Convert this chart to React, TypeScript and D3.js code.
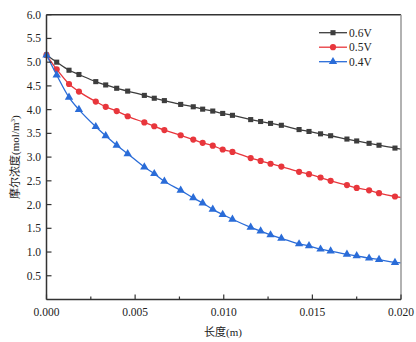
import React from "react";
import * as d3 from "d3";

const xs = [0, 0.000575, 0.00127, 0.00183, 0.00278, 0.00334, 0.00396, 0.00458, 0.00552, 0.00608,
  0.00665, 0.00757, 0.00828, 0.00881, 0.00938, 0.00994, 0.01049, 0.01152, 0.01208, 0.01264,
  0.01325, 0.01425, 0.01481, 0.01546, 0.01603, 0.01695, 0.0175, 0.0182, 0.01876, 0.01966, 0.02];
const v06 = [5.15, 5.0, 4.83, 4.74, 4.59, 4.52, 4.45, 4.39, 4.30, 4.24, 4.19, 4.11, 4.06, 4.01, 3.97, 3.92,
  3.88, 3.79, 3.75, 3.71, 3.67, 3.58, 3.54, 3.49, 3.45, 3.38, 3.34, 3.29, 3.25, 3.19, 3.17];
const v05 = [5.15, 4.85, 4.54, 4.38, 4.17, 4.06, 3.97, 3.86, 3.73, 3.65, 3.57, 3.46, 3.37, 3.30, 3.24, 3.16,
  3.11, 2.98, 2.92, 2.86, 2.80, 2.69, 2.64, 2.57, 2.50, 2.41, 2.35, 2.30, 2.24, 2.17, 2.15];
const v04 = [5.15, 4.73, 4.26, 4.0, 3.64, 3.45, 3.25, 3.07, 2.79, 2.65, 2.49, 2.30, 2.14, 2.03, 1.90, 1.79,
  1.69, 1.52, 1.44, 1.36, 1.29, 1.17, 1.13, 1.06, 1.02, 0.95, 0.92, 0.87, 0.84, 0.78, 0.77];
const seriesNames = ["0.6V", "0.5V", "0.4V"];
const xTicks = [0, 0.005, 0.01, 0.015, 0.02];
const xMinorTicks = [0.0025, 0.0075, 0.0125, 0.0175];
const yTicks = [0.5, 1.0, 1.5, 2.0, 2.5, 3.0, 3.5, 4.0, 4.5, 5.0, 5.5, 6.0];

const colors = ["#3d3d3d", "#e8363c", "#2a6cd8"];
const shapes = [d3.symbolSquare, d3.symbolCircle, d3.symbolTriangle];
const sizes = [26, 30, 30];

export default function App() {
  const L = 46.5, R = 401, T = 14.7, B = 299.5;
  const x = d3.scaleLinear().domain([0, 0.02]).range([L, R]);
  const y = d3.scaleLinear().domain([0, 6]).range([B, T]);
  const data = [v06, v05, v04];
  const line = d3.line<number>().x((_, i) => x(xs[i])).y((d) => y(d)).curve(d3.curveMonotoneX);
  const serif = "'Liberation Serif', 'Times New Roman', serif";
  const cjk = "'Noto Sans CJK SC', sans-serif";
  return (
    <svg width={416} height={342} style={{ position: "absolute", left: 0, top: 0, background: "#fff" }}>
      {/* series */}
      {data.map((vals, s) => (
        <g key={s}>
          <path d={line(vals) || ""} fill="none" stroke={colors[s]} strokeWidth={1.3} />
          {vals.slice(0, vals.length - 1).map((v, i) => (
            <path key={i} d={d3.symbol(shapes[s], sizes[s])() || ""}
              transform={`translate(${x(xs[i])},${y(v)})`} fill={colors[s]} />
          ))}
        </g>
      ))}
      {/* frame */}
      <line x1={L} x2={R} y1={T} y2={T} stroke="#333" strokeWidth={1.5} />
      <line x1={R} x2={R} y1={T} y2={B} stroke="#999" strokeWidth={1.5} />
      <line x1={L} x2={L} y1={T} y2={B} stroke="#333" strokeWidth={1.5} />
      <line x1={L} x2={R} y1={B} y2={B} stroke="#333" strokeWidth={1.5} />
      {/* x ticks */}
      {xTicks.map((t) => (
        <g key={t}>
          <line x1={x(t)} x2={x(t)} y1={B} y2={B - 5} stroke="#333" strokeWidth={1.2} />
          <text x={x(t)} y={316} textAnchor="middle" fontFamily={serif} fontSize={11.5} fill="#222">
            {t.toFixed(3)}
          </text>
        </g>
      ))}
      {xMinorTicks.map((t) => (
        <line key={t} x1={x(t)} x2={x(t)} y1={B} y2={B - 3} stroke="#333" strokeWidth={1.2} />
      ))}
      {/* y ticks */}
      {yTicks.map((t) => (
        <g key={t}>
          <line x1={L} x2={L + 5} y1={y(t)} y2={y(t)} stroke="#333" strokeWidth={1.2} />
          <text x={41} y={y(t) + 4} textAnchor="end" fontFamily={serif} fontSize={11.5} fill="#222">
            {t.toFixed(1)}
          </text>
        </g>
      ))}
      {/* axis titles */}
      <text x={223} y={336} textAnchor="middle" fontSize={11} fill="#222">
        <tspan fontFamily={cjk}>长度</tspan>
        <tspan fontFamily={serif}>(m)</tspan>
      </text>
      <text transform={`translate(19,${(T + B) / 2}) rotate(-90)`} textAnchor="middle" fontSize={11} fill="#222">
        <tspan fontFamily={cjk}>摩尔浓度</tspan>
        <tspan fontFamily={serif}>(mol/m</tspan>
        <tspan fontFamily={serif} fontSize={7} dy={-4}>3</tspan>
        <tspan fontFamily={serif} dy={4}>)</tspan>
      </text>
      {/* legend */}
      {seriesNames.map((n, s) => {
        const ly = 32.7 + s * 14.5;
        return (
          <g key={n}>
            <line x1={319} x2={347} y1={ly} y2={ly} stroke={colors[s]} strokeWidth={1.3} />
            <path d={d3.symbol(shapes[s], sizes[s])() || ""} transform={`translate(333,${ly})`} fill={colors[s]} />
            <text x={349} y={ly + 4} fontFamily={serif} fontSize={11.5} fill="#222">{n}</text>
          </g>
        );
      })}
    </svg>
  );
}
